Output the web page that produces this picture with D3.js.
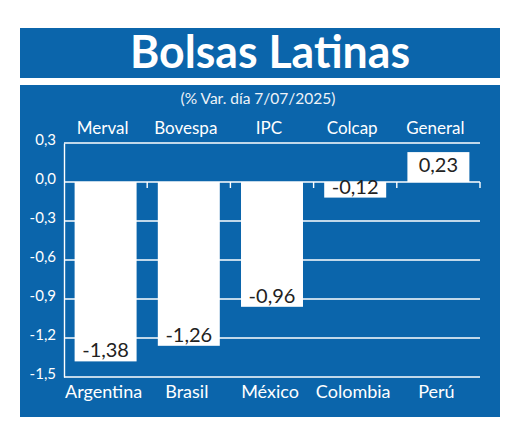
<!DOCTYPE html>
<html>
<head>
<meta charset="utf-8">
<script src="https://cdn.jsdelivr.net/npm/d3@7"></script>
<style>
  html, body { margin: 0; padding: 0; background: #ffffff; }
  svg { display: block; }
</style>
</head>
<body>
<svg id="chart" width="520" height="439"></svg>
<script>
const title = "Bolsas Latinas";
const subtitle = "(% Var. día 7/07/2025)";
const countries = ["Argentina", "Brasil", "México", "Colombia", "Perú"];
const indices = ["Merval", "Bovespa", "IPC", "Colcap", "General"];
const values = [-1.38, -1.26, -0.96, -0.12, 0.23];
const yTicks = [0.3, 0.0, -0.3, -0.6, -0.9, -1.2, -1.5];

const BLUE = "#0b65ab";
const FONT = "Lato, 'Open Sans', sans-serif";
const fmt = v => d3.format(".1f")(v).replace("−", "-").replace(".", ",");
const fmt2 = v => d3.format(".2f")(v).replace("−", "-").replace(".", ",");

const svg = d3.select("#chart");

// title panel
svg.append("rect").attr("x", 20).attr("y", 28).attr("width", 480).attr("height", 50).attr("fill", BLUE);
svg.append("text").attr("x", 270).attr("y", 68).attr("text-anchor", "middle")
  .attr("font-family", FONT).attr("font-weight", 700).attr("font-size", 46)
  .attr("fill", "#fff").attr("textLength", 280).attr("lengthAdjust", "spacingAndGlyphs")
  .text(title);

// chart panel
svg.append("rect").attr("x", 20).attr("y", 85).attr("width", 480).attr("height", 332).attr("fill", BLUE);
svg.append("text").attr("x", 258).attr("y", 104).attr("text-anchor", "middle")
  .attr("font-family", FONT).attr("font-size", 15.5).attr("fill", "#eef3f8")
  .text(subtitle);

const x = d3.scaleBand().domain(countries).range([64, 480]).paddingInner(0.255).paddingOuter(0.1275);
const y = d3.scaleLinear().domain([-1.5, 0.3]).range([377, 143]);

// gridlines
svg.append("g").selectAll("line").data(yTicks).join("line")
  .attr("x1", 64).attr("x2", 480)
  .attr("y1", d => y(d)).attr("y2", d => y(d))
  .attr("stroke", "#fff").attr("stroke-width", 1.4);

// y axis
const yAxis = d3.axisLeft(y).tickValues(yTicks).tickSize(0).tickPadding(8).tickFormat(fmt);
const gy = svg.append("g").attr("transform", "translate(64,0)").call(yAxis);
gy.select(".domain").attr("stroke", "#fff").attr("stroke-width", 1.4);
gy.selectAll("text").attr("font-family", FONT).attr("font-size", 15).attr("fill", "#fff").attr("dy", "0.1em");

// band ticks on the zero line
const bounds = countries.map(c => x(c) - x.step() * x.paddingInner() / 2 + x.step());
svg.append("g").selectAll("line").data(bounds).join("line")
  .attr("x1", d => d).attr("x2", d => d)
  .attr("y1", y(0)).attr("y2", y(0) + 6)
  .attr("stroke", "#fff").attr("stroke-width", 1.4);

// bars
svg.append("g").selectAll("rect").data(values).join("rect")
  .attr("x", (d, i) => x(countries[i]))
  .attr("width", x.bandwidth())
  .attr("y", d => y(Math.max(0, d)))
  .attr("height", d => Math.abs(y(d) - y(0)))
  .attr("fill", "#fff");

// value labels
svg.append("g").selectAll("text").data(values).join("text")
  .attr("x", (d, i) => x(countries[i]) + x.bandwidth() / 2)
  .attr("y", d => d < 0 ? y(d) - 4 : y(d) + 20)
  .attr("text-anchor", "middle")
  .attr("font-family", FONT).attr("font-size", 20).attr("fill", "#222")
  .text(d => fmt2(d));

// top index labels
svg.append("g").selectAll("text").data(indices).join("text")
  .attr("x", (d, i) => x(countries[i]) + x.bandwidth() / 2 - 3)
  .attr("y", 134)
  .attr("text-anchor", "middle")
  .attr("font-family", FONT).attr("font-size", 17).attr("fill", "#fff")
  .text(d => d);

// bottom country labels
const xAxis = d3.axisBottom(x).tickSize(0).tickPadding(8);
const gx = svg.append("g").attr("transform", "translate(-2," + y(-1.5) + ")").call(xAxis);
gx.select(".domain").remove();
gx.selectAll("text").attr("font-family", FONT).attr("font-size", 18).attr("fill", "#fff").attr("dy", "0.72em");
</script>
</body>
</html>
